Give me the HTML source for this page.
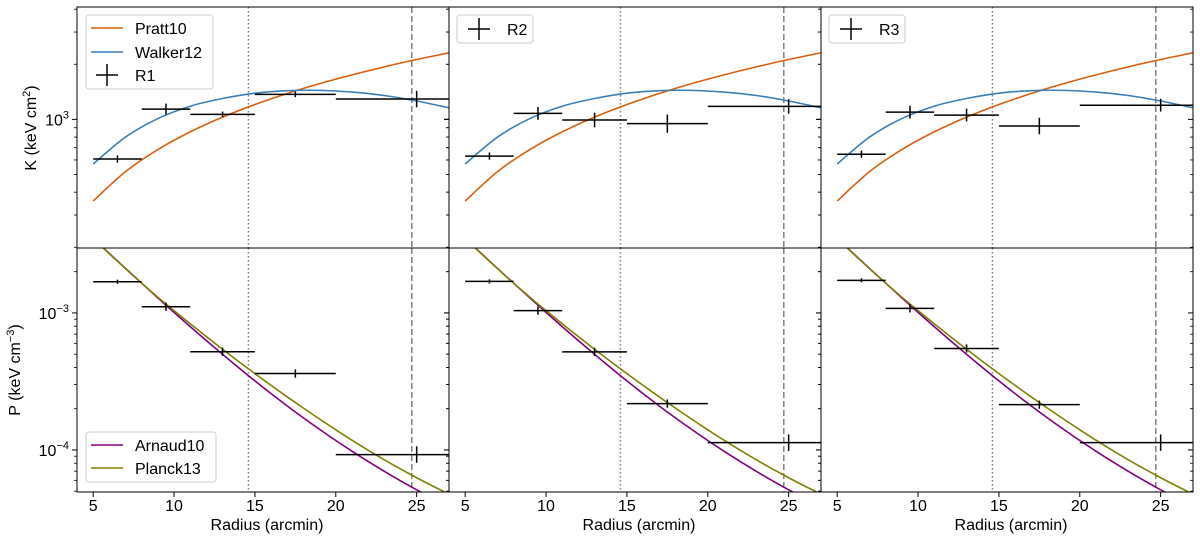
<!DOCTYPE html>
<html><head><meta charset="utf-8"><style>
body{margin:0;background:#fff;}
svg{display:block;font-family:"Liberation Sans","DejaVu Sans",sans-serif;}
</style></head><body>
<svg id="c" width="1200" height="543" viewBox="0 0 1200 543" xmlns="http://www.w3.org/2000/svg"></svg>
<script>
// ---- data ----
const binCenters = [6.5, 9.5, 13, 17.5, 25];
const binLo = [5, 8, 11, 15, 20];
const binHi = [8, 11, 15, 20, 27];
const kR1 = [607, 1138, 1065, 1370, 1291];
const kR1Err = [0.02, 0.03, 0.015, 0.015, 0.045];
const kR2 = [630, 1078, 992, 947, 1178];
const kR2Err = [0.02, 0.035, 0.04, 0.05, 0.04];
const kR3 = [645, 1095, 1055, 920, 1195];
const kR3Err = [0.02, 0.035, 0.035, 0.045, 0.035];
const pR1 = [1.69e-3, 1.11e-3, 5.21e-4, 3.61e-4, 9.25e-5];
const pR2 = [1.70e-3, 1.04e-3, 5.2e-4, 2.18e-4, 1.13e-4];
const pR3 = [1.73e-3, 1.08e-3, 5.5e-4, 2.14e-4, 1.13e-4];
const pErr = [0.015, 0.03, 0.03, 0.03, 0.06];
const modelR = [5, 7, 9, 11, 13, 15, 17, 19, 21, 23, 25, 27];
const pratt10 = [358, 518, 684, 854, 1028, 1205, 1385, 1567, 1750, 1936, 2123, 2310];
const walker12 = [570, 800, 1010, 1180, 1300, 1390, 1435, 1440, 1410, 1350, 1260, 1157];
const pModelR = [5,6,7,8,9,10,11,12,13,14,15,16,17,18,19,20,21,22,23,24,25,26,27];
const arnaud10Log = [-2.456,-2.566,-2.675,-2.783,-2.890,-2.996,-3.100,-3.202,-3.302,-3.400,-3.496,-3.589,-3.679,-3.766,-3.850,-3.931,-4.009,-4.084,-4.156,-4.225,-4.291,-4.354,-4.414];
const planck13Log = [-2.456,-2.568,-2.677,-2.783,-2.885,-2.983,-3.079,-3.173,-3.265,-3.355,-3.443,-3.529,-3.613,-3.695,-3.775,-3.853,-3.929,-4.002,-4.072,-4.139,-4.203,-4.264,-4.322];
const xTicks = [5, 10, 15, 20, 25];
const vDotted = 14.6, vDashed = 24.7;
const regionNames = ['R1', 'R2', 'R3'];

// ---- layout ----
const NS = 'http://www.w3.org/2000/svg';
const svg = document.getElementById('c');
const panelX = [77, 449, 821], PW = 372;
const topY0 = 7, topY1 = 248, botY0 = 248, botY1 = 492;
const kLogMin = 2.297, kLogMax = 3.614;
const pLogMin = -4.307, pLogMax = -2.526;
function el(tag, attrs, parent) {
  const e = document.createElementNS(NS, tag);
  for (const k in attrs) e.setAttribute(k, attrs[k]);
  (parent || svg).appendChild(e);
  return e;
}
function xs(px0) { return v => px0 + (v - 4) / 23 * PW; }
function ysK(v) { return topY1 - (Math.log10(v) - kLogMin) / (kLogMax - kLogMin) * (topY1 - topY0); }
function ysP(v) { return botY1 - (Math.log10(v) - pLogMin) / (pLogMax - pLogMin) * (botY1 - botY0); }
const arnaud10 = arnaud10Log.map(l => Math.pow(10, l));
const planck13 = planck13Log.map(l => Math.pow(10, l));

const kData = [kR1, kR2, kR3], kErrs = [kR1Err, kR2Err, kR3Err];
const pData = [pR1, pR2, pR3];

for (let p = 0; p < 3; p++) {
  const px0 = panelX[p], X = xs(px0);
  const g = el('g', {});
  
  
  const cid = 'clipT' + p, cid2 = 'clipB' + p;
  const defs = el('defs', {}, g);
  const c1 = el('clipPath', {id: cid}, defs); el('rect', {x: px0, y: topY0, width: PW, height: topY1 - topY0}, c1);
  const c2 = el('clipPath', {id: cid2}, defs); el('rect', {x: px0, y: botY0, width: PW, height: botY1 - botY0}, c2);
  const gt = el('g', {'clip-path': 'url(#' + cid + ')'}, g);
  const gb = el('g', {'clip-path': 'url(#' + cid2 + ')'}, g);
  [[gt, topY0, topY1], [gb, botY0, botY1]].forEach(([gg, a, b]) => {
    const l1 = el('line', {x1: X(vDotted), x2: X(vDotted), y1: a, y2: b, stroke: '#808080', 'stroke-width': 1.5, 'stroke-dasharray': '1.5,2.5'}, gg);
    
    
    const l2 = el('line', {x1: X(vDashed), x2: X(vDashed), y1: a, y2: b, stroke: '#808080', 'stroke-width': 1.5, 'stroke-dasharray': '6,3'}, gg);
    
    
  });
  function curve(gg, xsArr, ysArr, yf, color, name) {
    const P = xsArr.map((r, i) => [X(r), yf(ysArr[i])]);
    let d = 'M' + P[0][0] + ',' + P[0][1];
    for (let i = 0; i < P.length - 1; i++) {
      const p0 = P[Math.max(0, i - 1)], p1 = P[i], p2 = P[i + 1], p3 = P[Math.min(P.length - 1, i + 2)];
      const c1x = p1[0] + (p2[0] - p0[0]) / 6, c1y = p1[1] + (p2[1] - p0[1]) / 6;
      const c2x = p2[0] - (p3[0] - p1[0]) / 6, c2y = p2[1] - (p3[1] - p1[1]) / 6;
      d += ' C' + c1x + ',' + c1y + ' ' + c2x + ',' + c2y + ' ' + p2[0] + ',' + p2[1];
    }
    const e = el('path', {d: d, fill: 'none', stroke: color, 'stroke-width': 1.6}, gg);
    
    
  }
  curve(gt, modelR, pratt10, ysK, '#d95f0e', 'pratt10-curve');
  curve(gt, modelR, walker12, ysK, '#3a7fb8', 'walker12-curve');
  curve(gb, pModelR, arnaud10, ysP, '#800080', 'arnaud10-curve');
  curve(gb, pModelR, planck13, ysP, '#808000', 'planck13-curve');
  function points(gg, vals, errs, yf, prefix) {
    for (let i = 0; i < vals.length; i++) {
      const cy = yf(vals[i]);
      const e1 = el('line', {x1: X(binLo[i]), x2: X(binHi[i]), y1: cy, y2: cy, stroke: '#000', 'stroke-width': 1.5}, gg);
      
      
      const up = yf(vals[i] * Math.pow(10, errs[i])), dn = yf(vals[i] / Math.pow(10, errs[i]));
      const e2 = el('line', {x1: X(binCenters[i]), x2: X(binCenters[i]), y1: up, y2: dn, stroke: '#000', 'stroke-width': 1.5}, gg);
      
      
    }
  }
  points(gt, kData[p], kErrs[p], ysK, 'k-' + regionNames[p].toLowerCase());
  points(gb, pData[p], pErr, ysP, 'p-' + regionNames[p].toLowerCase());
  const f1 = el('rect', {x: px0, y: topY0, width: PW, height: topY1 - topY0, fill: 'none', stroke: '#000', 'stroke-width': 1}, g);
  
  
  const f2 = el('rect', {x: px0, y: botY0, width: PW, height: botY1 - botY0, fill: 'none', stroke: '#000', 'stroke-width': 1}, g);
  
  
  function yTicks(lo, hi, yf) {
    for (let e = Math.floor(lo) - 1; e <= Math.ceil(hi); e++) {
      for (let m = 1; m <= 9; m++) {
        const v = m * Math.pow(10, e), lv = Math.log10(v);
        if (lv < lo || lv > hi) continue;
        const y = yf(v), len = m === 1 ? 5 : 3;
        el('line', {x1: px0 - len, x2: px0, y1: y, y2: y, stroke: '#000', 'stroke-width': m === 1 ? 1 : 0.8}, g);
        el('line', {x1: px0 + PW - len, x2: px0 + PW, y1: y, y2: y, stroke: '#000', 'stroke-width': m === 1 ? 1 : 0.8}, g);
        if (m === 1 && p === 0) {
          const t = el('text', {x: px0 - 8, y: y + 6, 'text-anchor': 'end', 'font-size': 16}, g);
          t.innerHTML = '10<tspan dy="-7" font-size="11">' + (e < 0 ? '−' + (-e) : e) + '</tspan>';
          
          
        }
      }
    }
  }
  yTicks(kLogMin, kLogMax, ysK);
  yTicks(pLogMin, pLogMax, ysP);
  xTicks.forEach(v => {
    el('line', {x1: X(v), x2: X(v), y1: botY1, y2: botY1 + 5, stroke: '#000'}, g);
    const t = el('text', {x: X(v), y: 511, 'text-anchor': 'middle', 'font-size': 16}, g);
    t.textContent = v;
    
    
  });
  const xl = el('text', {x: px0 + PW / 2 + 4, y: 530, 'text-anchor': 'middle', 'font-size': 16}, g);
  xl.textContent = 'Radius (arcmin)';
  
  
  if (p === 0) {
    const lg = el('g', {}, g);
    
    
    el('rect', {x: 86, y: 15, width: 127, height: 74, rx: 3, fill: '#fff', stroke: '#ccc'}, lg);
    [['Pratt10', '#d95f0e', 28], ['Walker12', '#3a7fb8', 52]].forEach(([n, c, y]) => {
      el('line', {x1: 91, x2: 123, y1: y, y2: y, stroke: c, 'stroke-width': 1.6}, lg);
      const t = el('text', {x: 135, y: y + 6, 'font-size': 16}, lg); t.textContent = n;
      
      
    });
    el('line', {x1: 96, x2: 118, y1: 75, y2: 75, stroke: '#000', 'stroke-width': 1.5}, lg);
    el('line', {x1: 107, x2: 107, y1: 64, y2: 86, stroke: '#000', 'stroke-width': 1.5}, lg);
    const t = el('text', {x: 135, y: 81, 'font-size': 16}, lg); t.textContent = 'R1';
    
    
    const lb = el('g', {}, g);
    
    
    el('rect', {x: 86, y: 432, width: 130, height: 50, rx: 3, fill: '#fff', stroke: '#ccc'}, lb);
    [['Arnaud10', '#800080', 445], ['Planck13', '#808000', 468]].forEach(([n, c, y]) => {
      el('line', {x1: 91, x2: 123, y1: y, y2: y, stroke: c, 'stroke-width': 1.6}, lb);
      const tt = el('text', {x: 135, y: y + 6, 'font-size': 16}, lb); tt.textContent = n;
      
      
    });
  } else {
    const lg = el('g', {}, g);
    
    
    el('rect', {x: px0 + 8, y: 15, width: 76, height: 28, rx: 3, fill: '#fff', stroke: '#ccc'}, lg);
    el('line', {x1: px0 + 19, x2: px0 + 41, y1: 29, y2: 29, stroke: '#000', 'stroke-width': 1.5}, lg);
    el('line', {x1: px0 + 30, x2: px0 + 30, y1: 18, y2: 40, stroke: '#000', 'stroke-width': 1.5}, lg);
    const t = el('text', {x: px0 + 58, y: 35, 'font-size': 16}, lg); t.textContent = regionNames[p];
    
    
  }
}
const yl1 = el('text', {x: 0, y: 0, 'text-anchor': 'middle', 'font-size': 16, transform: 'translate(36,128) rotate(-90)'});
yl1.innerHTML = 'K (keV cm<tspan dy="-6" font-size="11">2</tspan><tspan dy="6">)</tspan>';


const yl2 = el('text', {x: 0, y: 0, 'text-anchor': 'middle', 'font-size': 16, transform: 'translate(20,370) rotate(-90)'});
yl2.innerHTML = 'P (keV cm<tspan dy="-6" font-size="11">−3</tspan><tspan dy="6">)</tspan>';


</script>
</body></html>
